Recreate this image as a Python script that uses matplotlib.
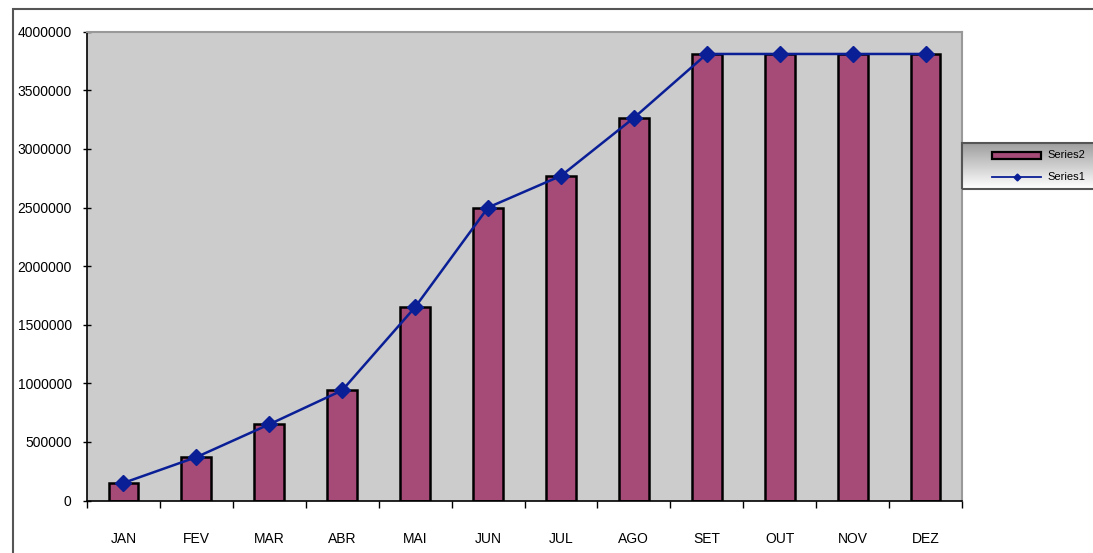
import matplotlib.pyplot as plt
import numpy as np
from matplotlib.patches import Rectangle
from matplotlib.lines import Line2D

plt.rcParams['font.family'] = ['Liberation Sans', 'DejaVu Sans']

meses = ['JAN', 'FEV', 'MAR', 'ABR', 'MAI', 'JUN', 'JUL', 'AGO', 'SET', 'OUT', 'NOV', 'DEZ']
series2 = [150000, 370000, 650000, 940000, 1650000, 2500000, 2770000, 3265000,
           3810000, 3810000, 3810000, 3810000]
series1 = [150000, 370000, 650000, 940000, 1650000, 2500000, 2770000, 3265000,
           3810000, 3810000, 3810000, 3810000]
y_ticks = [0, 500000, 1000000, 1500000, 2000000, 2500000, 3000000, 3500000, 4000000]

W, H = 1093, 553
fig = plt.figure(figsize=(W / 100, H / 100), dpi=100)

# ramka wykresu (wychodzi poza obrazek)
fig.patches.append(Rectangle((13 / W, -0.1), 1.2, 1 - 9 / H + 0.1, transform=fig.transFigure,
                             fill=False, edgecolor='#555555', lw=1.5))

ax = fig.add_axes([87 / W, 1 - 500.5 / H, (962 - 87) / W, (500.5 - 31.7) / H])
ax.set_facecolor('#cccccc')

x = np.arange(len(meses))
ax.bar(x, series2, width=0.41, color='#a64a78', edgecolor='black', linewidth=1.8,
       label='Series2', zorder=2)
ax.plot(x, series1, color='#0a1e96', lw=1.8, marker='D', markersize=8,
        markerfacecolor='#0a1e96', markeredgecolor='#0a1e96', label='Series1', zorder=3)

ax.set_xlim(-0.5, len(meses) - 0.5)
ax.set_ylim(0, 4000000)
ax.set_yticks(y_ticks)
ax.set_yticklabels([str(v) for v in y_ticks], fontsize=10)
ax.set_xticks(np.arange(len(meses) + 1) - 0.5)
ax.set_xticklabels([])
ax.set_xticks(x, minor=True)
ax.set_xticklabels(meses, minor=True, fontsize=10)
ax.tick_params(axis='x', which='major', direction='out', length=5, width=1)
ax.tick_params(axis='x', which='minor', length=0, pad=23)
ax.tick_params(axis='y', direction='inout', length=6, width=1, pad=8)

for s in ['top', 'right']:
    ax.spines[s].set_color('#999999')
    ax.spines[s].set_linewidth(1.5)
for s in ['left', 'bottom']:
    ax.spines[s].set_color('black')
    ax.spines[s].set_linewidth(1.2)

# legenda
lax = fig.add_axes([962 / W, 1 - 189 / H, (W - 962) / W + 0.01, 46 / H])
grad = np.linspace(0.62, 1.0, 100).reshape(-1, 1)
lax.imshow(grad, aspect='auto', cmap='gray', vmin=0, vmax=1, extent=[0, 1, 0, 1])
lax.set_xlim(0, 1)
lax.set_ylim(0, 1)
lax.axis('off')
lax.add_patch(Rectangle((0, 0), 1, 1, fill=False, edgecolor='#555555', lw=1.5,
                        transform=lax.transAxes, clip_on=False))
lax.add_patch(Rectangle((0.21, 0.66), 0.35, 0.14, facecolor='#a64a78', edgecolor='black', lw=1.6))
lax.add_line(Line2D([0.21, 0.56], [0.26, 0.26], color='#0a1e96', lw=1.3))
lax.plot([0.385], [0.26], marker='D', markersize=3.5, color='#0a1e96')
lax.text(0.6, 0.73, 'Series2', fontsize=8, va='center')
lax.text(0.6, 0.26, 'Series1', fontsize=8, va='center')

fig.savefig('out.png', dpi=100)
